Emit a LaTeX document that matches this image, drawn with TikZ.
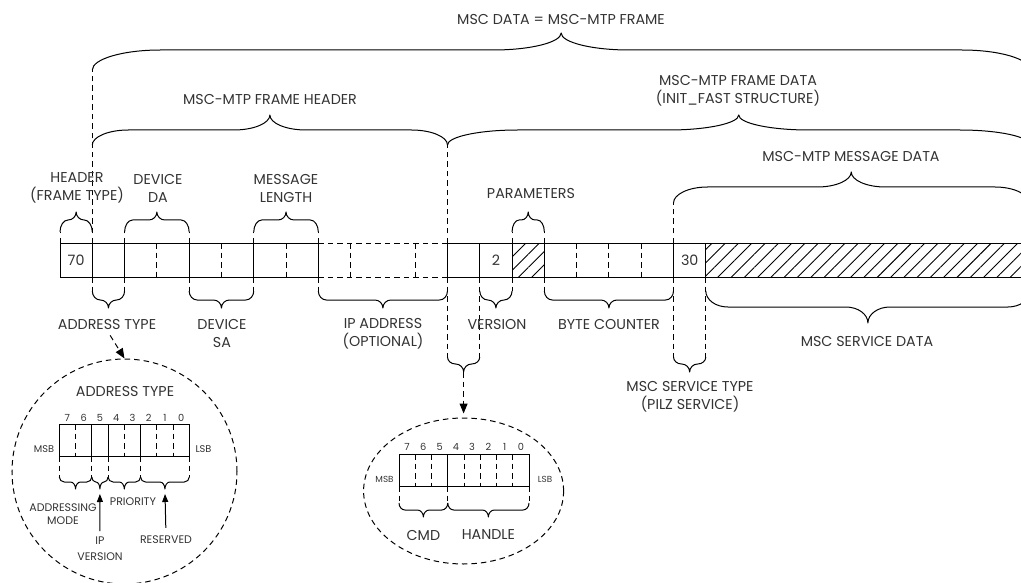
\documentclass[tikz,border=0pt]{standalone}
\usepackage{fontspec}
\setmainfont{Poppins}
\usetikzlibrary{arrows.meta, shapes.geometric, patterns.meta}
\definecolor{mscink}{HTML}{333333}
\tikzset{
  ln/.style={line width=1pt},
  dsh/.style={line width=1pt, dash pattern=on 5.5pt off 4pt},
  brc/.style={line width=1pt, line join=round},
  hatch/.style={pattern={Lines[angle=45,distance=9.4pt,line width=0.9pt]}},
  lbl/.style={font=\fontsize{14.3}{18}\selectfont, text=mscink, align=center, inner sep=0pt},
  small/.style={font=\fontsize{11}{13}\selectfont, text=mscink, align=center, inner sep=0pt},
  tiny/.style={font=\fontsize{9.8}{11}\selectfont, text=mscink, inner sep=0pt},
  darrow/.style={dsh, -{Triangle[length=10pt,width=8pt]}},
  uparrow/.style={ln, -{Triangle[length=8pt,width=6pt]}}
}
% curly brace: x1, x2, y of ends, y of bar, y of tip, curl width
\newcommand{\fbrace}[6]{%
  \pgfmathsetmacro\brmid{(#1+#2)/2}
  \draw[brc] (#1,#3) .. controls (#1,{#3+0.55*(#4-#3)}) and ({#1+0.45*#6},#4) .. ({#1+#6},#4)
    -- ({\brmid-#6},#4) .. controls ({\brmid-0.45*#6},#4) and (\brmid,{#5+0.55*(#4-#5)}) .. (\brmid,#5)
    .. controls (\brmid,{#5+0.55*(#4-#5)}) and ({\brmid+0.45*#6},#4) .. ({\brmid+#6},#4)
    -- ({#2-#6},#4) .. controls ({#2-0.45*#6},#4) and (#2,{#3+0.55*(#4-#3)}) .. (#2,#3);}

\begin{document}
\begin{tikzpicture}[x=1pt,y=-1pt]
  \useasboundingbox (0,0) rectangle (1021,583);
  \clip (0,0) rectangle (1021,583);

  % frame bytes
  \foreach \k in {0,...,20} {
    \coordinate (t\k) at ({60+32.29*\k},243);
    \coordinate (b\k) at ({60+32.29*\k},277);
  }
  \fill[hatch] (t14) rectangle (b15);
  \fill[hatch] (t20) rectangle (1021,277);
  \draw[ln] (t0) -- (t8) (b0) -- (b8) (t12) -- (1021,243) (b12) -- (1021,277);
  \draw[dsh] (t8) -- (t12) (b8) -- (b12);
  \foreach \k in {0,1,2,4,6,8,12,13,14,15,19,20} \draw[ln] (t\k) -- (b\k);
  \foreach \k in {3,5,7,9,11,16,17,18} \draw[dsh] (t\k) -- (b\k);

  % dashed extensions
  \foreach \k in {0,2,4,6,8,14,15} \draw[dsh] (t\k) -- +(0,-11);
  \draw[dsh] (t1) -- +(0,-173);
  \draw[dsh] (t12) -- +(0,-98);
  \draw[dsh] (t19) -- +(0,-40);
  \foreach \k in {1,2,4,6,8,14,15} \draw[dsh] (b\k) -- +(0,14);
  \foreach \k in {12,13,19,20} \draw[dsh] (b\k) -- +(0,80);

  \node[lbl] (v70) at (76.1,260) {70};
  \node[lbl] (v2) at (495.9,260) {2};
  \node[lbl] (v30) at (689.7,260) {30};

  % braces above
  \fbrace{60}{92.29}{232}{220}{212}{8}
  \fbrace{124.58}{189.16}{232}{220}{212}{8}
  \fbrace{253.74}{318.32}{232}{220}{212}{8}
  \fbrace{512.06}{544.35}{232}{220}{212}{7}
  \fbrace{673.51}{1029}{203}{187}{172}{34}
  \fbrace{92.29}{447.48}{145}{130}{115}{36}
  \fbrace{447.48}{1030}{145}{130}{115}{70}
  \fbrace{92.29}{1030}{70}{50}{33}{68}

  % braces below
  \fbrace{92.29}{124.58}{291}{300}{308}{8}
  \fbrace{189.16}{253.74}{291}{300}{308}{8}
  \fbrace{318.32}{447.48}{291}{300}{308}{8}
  \fbrace{479.77}{512.06}{291}{300}{308}{8}
  \fbrace{544.35}{673.51}{291}{300}{308}{8}
  \fbrace{705.8}{1030}{291}{307}{323}{22}
  \fbrace{447.48}{479.77}{357}{364}{372}{8}
  \fbrace{673.51}{705.8}{357}{364}{372}{8}

  % labels
  \node[lbl] (mscdata) at (561,20) {MSC DATA = MSC-MTP FRAME};
  \node[lbl] (fhdr) at (270,100) {MSC-MTP FRAME HEADER};
  \node[lbl] (fdata) at (738,91) {MSC-MTP FRAME DATA\\(INIT\_FAST STRUCTURE)};
  \node[lbl] (msgdata) at (851,157) {MSC-MTP MESSAGE DATA};
  \node[lbl] (hdrlbl) at (77,188) {HEADER\\(FRAME TYPE)};
  \node[lbl] (dalbl) at (158,188) {DEVICE\\DA};
  \node[lbl] (mllbl) at (286,188) {MESSAGE\\LENGTH};
  \node[lbl] (parlbl) at (531,194) {PARAMETERS};
  \node[lbl] (atlbl) at (107,325) {ADDRESS TYPE};
  \node[lbl] (salbl) at (222,334) {DEVICE\\SA};
  \node[lbl] (iplbl) at (383,334) {IP ADDRESS\\(OPTIONAL)};
  \node[lbl] (verlbl) at (497,325) {VERSION};
  \node[lbl] (bclbl) at (609,325) {BYTE COUNTER};
  \node[lbl] (sdlbl) at (867,342) {MSC SERVICE DATA};
  \node[lbl] (stlbl) at (690,397) {MSC SERVICE TYPE\\(PILZ SERVICE)};

  % address type detail
  \node[draw, dsh, circle, minimum size=225pt, inner sep=0pt] (atc) at (124.5,471.5) {};
  \draw[darrow, shorten <=6pt] (atlbl.south) -- (atc.north);
  \node[lbl] (attitle) at (125,392) {ADDRESS TYPE};
  \draw[ln] (59.3,424) rectangle (189.3,456);
  \foreach \x in {91.8,108.05,140.55} \draw[ln] (\x,424) -- (\x,456);
  \foreach \x in {75.55,124.3,156.8,173.05} \draw[dsh] (\x,424) -- (\x,456);
  \foreach \x in {59.3,91.8,108.05,140.55,189.3} \draw[dsh] (\x,456) -- (\x,477);
  \foreach \b [count=\i from 0] in {7,6,5,4,3,2,1,0}
    \node[tiny] (an\b) at ({67.4+16.25*\i},418) {\b};
  \node[tiny] (amsb) at (44,449) {MSB};
  \node[tiny] (alsb) at (203.5,449) {LSB};
  \fbrace{59.3}{91.8}{477}{482}{489}{5}
  \fbrace{91.8}{108.05}{477}{482}{489}{4}
  \fbrace{108.05}{140.55}{477}{482}{489}{5}
  \fbrace{140.55}{189.3}{477}{482}{489}{5}
  \coordinate (iptip) at (99.9,489);
  \coordinate (rstip) at (164.9,489);
  \node[small] (admode) at (63,514.5) {ADDRESSING\\MODE};
  \node[small] (prio) at (133,502) {PRIORITY};
  \node[small, font=\fontsize{11}{16.5}\selectfont] (ipver) at (100,548.5) {IP\\VERSION};
  \node[small] (resv) at (166,540) {RESERVED};
  \draw[uparrow, shorten <=5pt, shorten >=5pt] (ipver.north) -- (iptip);
  \draw[uparrow, shorten <=8pt, shorten >=5pt] (resv.north) -- (rstip);

  % cmd / handle detail
  \coordinate (cmdtip) at (463.6,372);
  \node[draw, dsh, ellipse, minimum width=200pt, minimum height=146pt, inner sep=0pt] (cmde) at (463.6,491) {};
  \draw[darrow, shorten >=4pt] (cmdtip) -- (cmde.north);
  \draw[ln] (399,454) rectangle (529,486);
  \draw[ln] (447.75,454) -- (447.75,486);
  \foreach \x in {415.25,431.5,464,480.25,496.5,512.75} \draw[dsh] (\x,454) -- (\x,486);
  \foreach \x in {399,447.75,529} \draw[dsh] (\x,486) -- (\x,503);
  \foreach \b [count=\i from 0] in {7,6,5,4,3,2,1,0}
    \node[tiny] (hn\b) at ({407.1+16.25*\i},447) {\b};
  \node[tiny, font=\fontsize{8.8}{10}\selectfont] (hmsb) at (384.5,479) {MSB};
  \node[tiny, font=\fontsize{8.8}{10}\selectfont] (hlsb) at (545,479) {LSB};
  \fbrace{399}{447.75}{503}{510}{517}{6}
  \fbrace{447.75}{529}{503}{510}{517}{6}
  \node[lbl] (cmdlbl) at (423.4,535) {CMD};
  \node[lbl] (hdllbl) at (488.4,535) {HANDLE};
\end{tikzpicture}
\end{document}
